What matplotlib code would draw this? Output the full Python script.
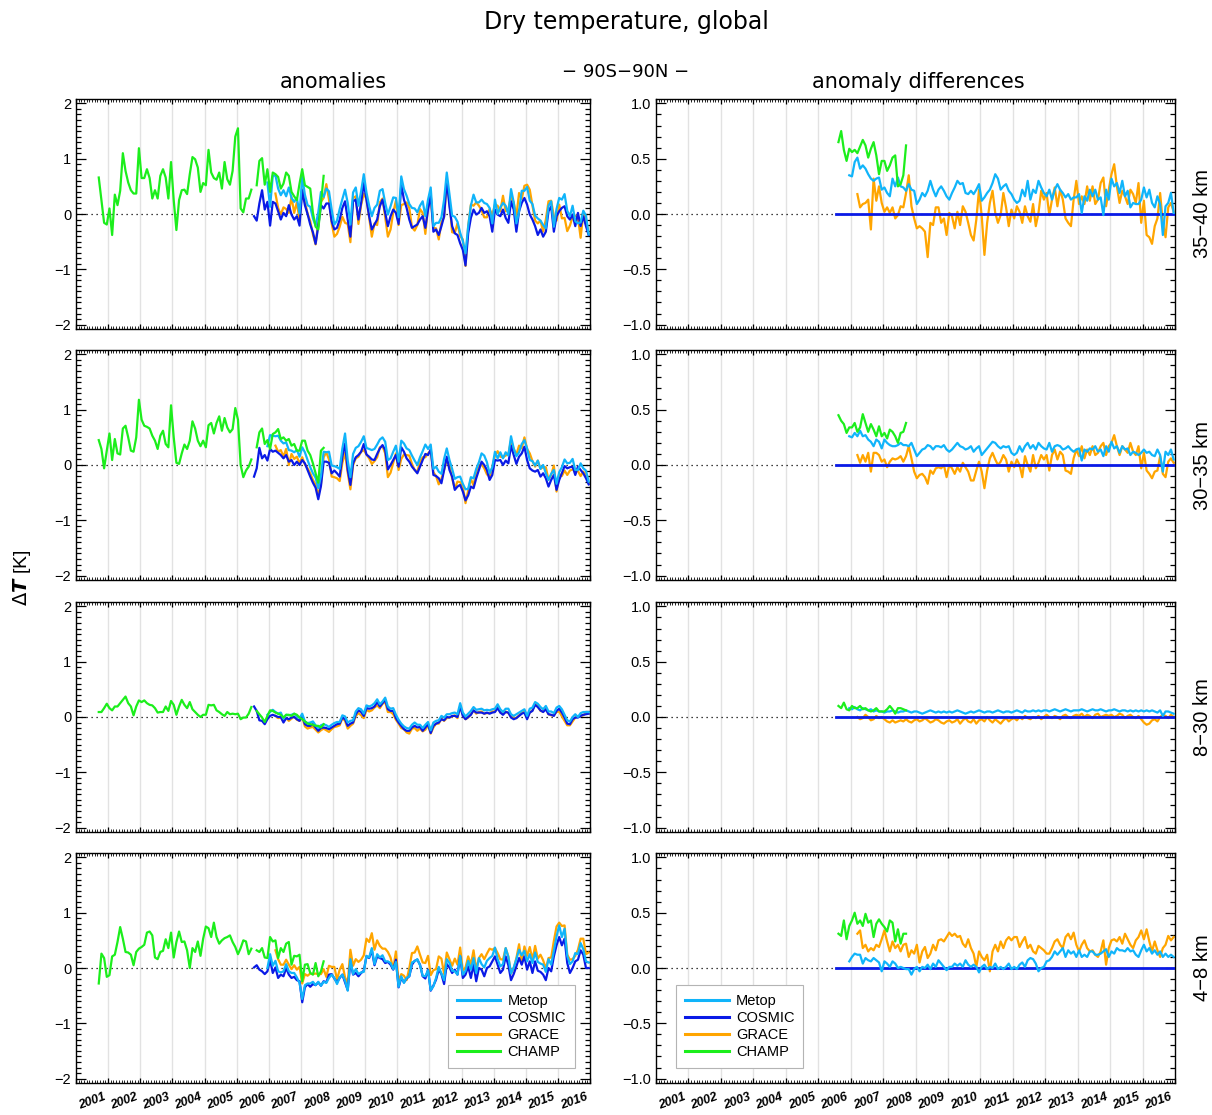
import numpy as np
import matplotlib
matplotlib.use("Agg")
import matplotlib.pyplot as plt
from matplotlib.ticker import MultipleLocator
from matplotlib.lines import Line2D
from matplotlib import transforms

plt.rcParams["font.family"] = ["Liberation Sans", "DejaVu Sans"]
plt.rcParams["mathtext.fontset"] = "dejavusans"

LAYERS = ["35\u221240 km", "30\u221235 km", "8\u221230 km", "4\u22128 km"]
YEARS = list(range(2001, 2017))

# first month of each monthly record (year, month)
CHAMP_START = (2001, 9)
COSMIC_START = (2006, 7)
METOP_START = (2006, 12)
GRACE_START = (2007, 3)
CHAMP_DIFF_START = (2006, 8)
NAN = float("nan")

# ---- 35-40 km ----
champ_35_40 = [
    0.66, 0.25, -0.16, -0.19, 0.10, -0.38, 0.35, 0.16, 0.42, 1.10,
    0.78, 0.57, 0.43, 0.37, 0.37, 1.19, 0.65, 0.65, 0.81, 0.65,
    0.28, 0.43, 0.28, 0.69, 0.81, 0.66, 0.28, 0.94, 0.25, -0.29,
    0.25, 0.43, 0.44, 0.36, 0.72, 1.03, 0.99, 0.84, 0.40, 0.56,
    0.52, 1.16, 0.75, 0.65, 0.62, 0.75, 0.46, 0.94, 0.63, 0.53,
    0.78, 1.40, 1.55, 0.10, 0.03, 0.28, 0.28, 0.44, NAN,
    0.52, 0.96, 1.01, 0.53, 0.81, 0.40, 0.75, 0.72, 0.67, 0.46,
    0.55, 0.75, 0.69, 0.40, 0.32, 0.25, 0.55, 0.81, 0.52, 0.49,
    0.46, 0.02, -0.23, -0.28, 0.19, 0.69,
]
cosmic_35_40 = [
    -0.04, -0.12, 0.19, 0.43, 0.08, 0.22, -0.21, 0.22, 0.19, 0.05,
    -0.10, 0.02, -0.04, 0.16, -0.01, -0.10, -0.04, -0.21, 0.43, 0.16,
    0.00, -0.19, -0.33, -0.54, -0.22, 0.16, 0.10, 0.19, 0.19, -0.13,
    -0.28, -0.25, -0.10, 0.11, 0.23, -0.10, -0.41, 0.23, 0.26, -0.10,
    0.20, 0.56, 0.26, -0.04, -0.28, -0.19, -0.10, 0.14, 0.26, 0.02,
    -0.22, -0.04, 0.08, 0.02, -0.18, 0.53, 0.26, 0.11, -0.10, -0.25,
    -0.22, -0.19, -0.10, -0.04, -0.25, 0.08, 0.35, -0.32, -0.28, -0.38,
    -0.22, -0.04, 0.62, 0.14, -0.22, -0.35, -0.38, -0.53, -0.65, -0.93,
    -0.35, -0.07, 0.08, -0.01, 0.02, 0.11, 0.02, 0.05, -0.04, -0.32,
    0.08, -0.01, -0.04, 0.08, -0.07, -0.16, 0.23, 0.08, -0.32, 0.05,
    0.20, 0.29, 0.17, -0.01, -0.10, -0.22, -0.38, -0.28, -0.41, -0.32,
    0.05, 0.14, -0.32, -0.04, 0.05, 0.11, 0.14, -0.04, -0.10, -0.01,
    -0.22, 0.02, -0.22, -0.04, -0.22, -0.38,
]
metop_diff_35_40 = [
    0.35, 0.34, 0.47, 0.51, 0.41, 0.44, 0.41, 0.36, 0.32, 0.30,
    0.32, 0.33, 0.22, 0.24, 0.19, 0.16, 0.32, 0.25, 0.33, 0.25,
    0.24, 0.21, 0.27, 0.22, 0.21, 0.09, 0.13, 0.19, 0.16, 0.21,
    0.30, 0.22, 0.16, 0.22, 0.25, 0.21, 0.16, 0.13, 0.19, 0.24,
    0.30, 0.27, 0.28, 0.19, 0.18, 0.21, 0.18, 0.22, 0.27, 0.12,
    0.15, 0.19, 0.22, 0.28, 0.36, 0.32, 0.22, 0.25, 0.27, 0.21,
    0.18, 0.13, 0.10, 0.12, 0.22, 0.16, 0.30, 0.13, 0.22, 0.19,
    0.30, 0.24, 0.19, 0.16, 0.22, 0.13, 0.22, 0.27, 0.22, 0.19,
    0.15, 0.18, 0.13, 0.15, 0.15, 0.18, 0.01, 0.16, 0.12, 0.22,
    0.16, 0.22, 0.13, 0.15, -0.01, 0.22, 0.13, 0.32, 0.25, 0.28,
    0.19, 0.30, 0.16, 0.21, 0.06, 0.10, 0.09, 0.09, 0.13, 0.24,
    0.15, 0.22, 0.10, 0.06, 0.16, 0.09, -0.19, 0.07, 0.10, 0.19,
    0.01,
]
grace_diff_35_40 = [
    0.18, 0.06, 0.09, 0.10, 0.13, -0.14, 0.32, 0.12, 0.25, 0.10,
    0.02, 0.06, 0.01, 0.06, -0.04, -0.01, 0.07, 0.06, 0.19, 0.35,
    0.07, -0.04, -0.13, -0.11, -0.13, -0.16, -0.39, -0.08, -0.10, 0.06,
    0.06, -0.08, -0.04, -0.19, 0.01, -0.02, -0.13, 0.02, -0.10, 0.07,
    0.02, -0.08, -0.19, -0.24, -0.05, 0.22, -0.02, -0.37, -0.08, 0.10,
    0.21, 0.01, -0.08, -0.01, 0.19, 0.06, -0.11, 0.04, -0.04, 0.07,
    0.02, -0.08, 0.07, -0.02, -0.07, 0.09, -0.11, 0.01, 0.21, 0.13,
    0.19, -0.01, 0.13, 0.24, 0.07, 0.22, 0.13, -0.04, -0.08, -0.11,
    0.13, 0.30, 0.09, 0.16, 0.09, 0.25, 0.12, 0.25, 0.09, 0.13,
    0.28, 0.33, 0.07, 0.22, 0.36, 0.45, 0.25, 0.10, 0.21, 0.16,
    0.09, 0.22, 0.18, 0.10, 0.28, -0.08, 0.12, -0.19, -0.21, -0.27,
    -0.11, -0.04, 0.19, -0.08, -0.21, 0.06, 0.10, 0.02,
]
champ_diff_35_40 = [
    0.65, 0.75, 0.58, 0.48, 0.59, 0.56, 0.58, 0.55, 0.61, 0.67,
    0.62, 0.51, 0.59, 0.65, 0.53, 0.36, 0.48, 0.48, 0.39, 0.44,
    0.51, 0.53, 0.25, 0.27, 0.35, 0.62,
]

# ---- 30-35 km ----
champ_30_35 = [
    0.45, 0.29, -0.06, 0.26, 0.57, 0.09, 0.47, 0.21, 0.19, 0.66,
    0.71, 0.50, 0.26, 0.24, 0.50, 1.18, 0.82, 0.71, 0.69, 0.66,
    0.53, 0.44, 0.29, 0.53, 0.62, 0.38, 0.32, 1.08, 0.50, 0.04,
    0.02, 0.21, 0.37, 0.29, 0.44, 0.79, 0.66, 0.44, 0.34, 0.44,
    0.32, 0.72, 0.76, 0.57, 0.76, 0.88, 0.62, 0.85, 0.68, 0.59,
    0.65, 1.03, 0.82, 0.00, -0.22, -0.10, -0.03, 0.10, NAN,
    0.32, 0.59, 0.66, 0.38, 0.45, 0.29, 0.56, 0.59, 0.65, 0.47,
    0.50, 0.44, 0.47, 0.35, 0.38, 0.26, 0.26, 0.44, 0.44, 0.26,
    0.18, 0.03, -0.15, -0.32, 0.26, 0.31,
]
cosmic_30_35 = [
    -0.21, -0.06, 0.31, 0.12, 0.18, 0.08, 0.29, 0.24, 0.26, 0.22,
    0.18, 0.12, 0.18, 0.06, 0.09, 0.00, 0.06, 0.00, 0.09, 0.03,
    -0.09, -0.21, -0.32, -0.41, -0.62, -0.38, 0.06, 0.06, 0.04, -0.15,
    -0.10, -0.15, -0.21, 0.15, 0.39, -0.09, -0.36, 0.03, 0.14, 0.18,
    0.24, 0.38, 0.19, 0.15, 0.10, 0.09, 0.20, 0.30, 0.36, 0.27,
    -0.08, 0.00, 0.09, 0.18, -0.03, 0.32, 0.24, 0.12, 0.06, -0.03,
    -0.09, -0.15, -0.03, 0.09, 0.20, 0.18, 0.28, -0.18, -0.20, -0.24,
    -0.33, -0.09, 0.15, -0.09, -0.21, -0.45, -0.39, -0.36, -0.48, -0.64,
    -0.55, -0.39, -0.42, -0.24, -0.09, 0.06, 0.00, -0.09, -0.27, -0.18,
    0.09, 0.08, 0.09, 0.00, 0.08, 0.03, 0.35, 0.18, 0.02, 0.15,
    0.21, 0.33, 0.09, -0.06, -0.10, -0.12, -0.09, -0.21, -0.15, -0.24,
    -0.39, -0.27, -0.18, -0.45, -0.27, -0.15, -0.02, -0.06, -0.04, -0.03,
    -0.18, -0.03, -0.09, -0.15, -0.24, -0.35,
]
metop_diff_30_35 = [
    0.26, 0.25, 0.29, 0.26, 0.31, 0.26, 0.27, 0.23, 0.21, 0.17,
    0.23, 0.21, 0.15, 0.23, 0.20, 0.18, 0.17, 0.17, 0.18, 0.20,
    0.18, 0.18, 0.17, 0.20, 0.14, 0.08, 0.11, 0.14, 0.15, 0.18,
    0.17, 0.14, 0.17, 0.17, 0.16, 0.18, 0.14, 0.12, 0.14, 0.17,
    0.20, 0.17, 0.16, 0.14, 0.15, 0.17, 0.12, 0.15, 0.17, 0.09,
    0.12, 0.15, 0.18, 0.21, 0.20, 0.17, 0.15, 0.17, 0.16, 0.17,
    0.11, 0.09, 0.11, 0.17, 0.12, 0.17, 0.20, 0.15, 0.18, 0.14,
    0.20, 0.17, 0.15, 0.14, 0.20, 0.12, 0.17, 0.18, 0.17, 0.14,
    0.15, 0.17, 0.14, 0.12, 0.14, 0.15, 0.04, 0.14, 0.12, 0.15,
    0.14, 0.17, 0.12, 0.14, 0.08, 0.17, 0.12, 0.21, 0.15, 0.17,
    0.11, 0.17, 0.14, 0.15, 0.09, 0.12, 0.11, 0.09, 0.11, 0.14,
    0.11, 0.12, 0.09, 0.08, 0.14, 0.09, -0.06, 0.12, 0.09, 0.14,
    0.05,
]
grace_diff_30_35 = [
    0.09, 0.02, 0.09, 0.03, 0.11, -0.06, 0.11, 0.11, 0.09, 0.03,
    0.05, -0.02, 0.03, 0.06, 0.05, 0.06, 0.08, 0.03, 0.08, 0.17,
    0.06, -0.06, -0.12, -0.09, -0.08, -0.11, -0.17, -0.05, -0.08, -0.03,
    -0.02, -0.03, 0.00, -0.11, 0.00, -0.03, -0.08, -0.02, -0.06, 0.02,
    -0.02, -0.06, -0.14, -0.14, -0.05, 0.03, -0.06, -0.21, -0.05, 0.06,
    0.11, 0.05, 0.00, 0.03, 0.09, 0.05, -0.06, 0.03, -0.02, 0.05,
    0.00, -0.11, 0.08, 0.00, -0.06, 0.09, -0.03, 0.02, 0.09, 0.05,
    0.09, -0.05, 0.09, 0.14, 0.05, 0.12, 0.09, -0.05, -0.06, -0.08,
    0.06, 0.14, 0.08, 0.17, 0.06, 0.14, 0.09, 0.17, 0.09, 0.11,
    0.17, 0.20, 0.09, 0.17, 0.20, 0.27, 0.17, 0.09, 0.17, 0.14,
    0.11, 0.20, 0.12, 0.09, 0.17, -0.03, 0.11, -0.05, -0.08, -0.12,
    -0.06, -0.05, 0.08, -0.08, -0.11, 0.03, 0.06, 0.02,
]
champ_diff_30_35 = [
    0.45, 0.40, 0.37, 0.29, 0.34, 0.34, 0.38, 0.30, 0.34, 0.46,
    0.38, 0.30, 0.37, 0.32, 0.26, 0.35, 0.26, 0.29, 0.24, 0.32,
    0.30, 0.26, 0.20, 0.29, 0.30, 0.38,
]

# ---- 8-30 km ----
champ_8_30 = [
    0.09, 0.09, 0.16, 0.24, 0.16, 0.12, 0.19, 0.19, 0.25, 0.31,
    0.37, 0.25, 0.19, 0.03, 0.19, 0.30, 0.27, 0.30, 0.25, 0.22,
    0.21, 0.16, 0.08, 0.09, 0.09, 0.19, 0.11, 0.29, 0.22, 0.04,
    0.19, 0.31, 0.22, 0.16, 0.27, 0.14, 0.09, 0.04, 0.00, 0.04,
    0.04, 0.22, 0.21, 0.22, 0.12, 0.09, 0.05, 0.02, 0.09, 0.05,
    0.06, 0.05, 0.06, -0.04, -0.01, -0.01, 0.06, 0.18, NAN,
    0.11, 0.05, -0.01, -0.09, 0.02, 0.12, 0.11, 0.08, 0.06, 0.04,
    -0.01, 0.04, 0.04, 0.02, 0.06, 0.04, -0.01, -0.04, -0.08, -0.12,
    -0.13, -0.14, -0.16, -0.16, -0.19, -0.13,
]
cosmic_8_30 = [
    0.19, 0.11, -0.06, -0.07, -0.13, -0.04, 0.02, 0.04, 0.02, 0.00,
    0.00, -0.10, -0.02, -0.04, -0.01, 0.00, -0.04, -0.07, 0.02, -0.13,
    -0.16, -0.16, -0.13, -0.19, -0.25, -0.20, -0.19, -0.20, -0.22, -0.19,
    -0.16, -0.13, -0.12, -0.01, -0.04, -0.16, -0.12, -0.10, 0.05, 0.12,
    0.09, 0.02, 0.16, 0.15, 0.16, 0.19, 0.27, 0.19, 0.25, 0.31,
    0.14, 0.11, 0.11, -0.02, -0.10, -0.16, -0.22, -0.25, -0.25, -0.19,
    -0.16, -0.19, -0.18, -0.25, -0.19, -0.13, -0.29, -0.16, -0.12, -0.10,
    -0.04, -0.06, 0.00, -0.01, 0.02, 0.02, 0.00, 0.19, 0.02, -0.04,
    0.00, 0.04, 0.12, 0.08, 0.08, 0.08, 0.06, 0.08, 0.06, 0.08,
    0.09, 0.16, 0.08, 0.04, 0.09, 0.08, -0.01, -0.04, -0.02, 0.02,
    0.06, 0.08, -0.04, 0.08, 0.11, 0.22, 0.18, 0.12, 0.09, 0.14,
    0.05, 0.04, 0.02, 0.11, 0.15, 0.08, -0.01, -0.12, -0.13, -0.04,
    -0.01, -0.01, 0.02, 0.04, 0.05, 0.06,
]
metop_diff_8_30 = [
    0.08,
    0.07, 0.09, 0.07, 0.06, 0.08, 0.07, 0.06, 0.07, 0.05, 0.06, 0.05, 0.05,
    0.04, 0.05, 0.05, 0.06, 0.05, 0.04, 0.05, 0.05, 0.06, 0.05, 0.04, 0.05,
    0.05, 0.04, 0.03, 0.04, 0.05, 0.06, 0.05, 0.04, 0.05, 0.04, 0.05, 0.04,
    0.05, 0.04, 0.05, 0.06, 0.05, 0.04, 0.03, 0.04, 0.05, 0.04, 0.05, 0.06,
    0.05, 0.04, 0.05, 0.05, 0.04, 0.05, 0.06, 0.05, 0.04, 0.05, 0.05, 0.04,
    0.05, 0.06, 0.05, 0.04, 0.06, 0.05, 0.05, 0.06, 0.05, 0.06, 0.05, 0.06,
    0.06, 0.05, 0.06, 0.07, 0.06, 0.05, 0.06, 0.07, 0.06, 0.05, 0.06, 0.06,
    0.06, 0.07, 0.06, 0.05, 0.06, 0.07, 0.06, 0.06, 0.07, 0.06, 0.05, 0.06,
    0.06, 0.07, 0.06, 0.05, 0.06, 0.06, 0.05, 0.06, 0.05, 0.06, 0.05, 0.06,
    0.05, 0.06, 0.05, 0.06, 0.05, 0.04, 0.06, 0.01, 0.05, 0.05, 0.04, 0.03,
]
grace_diff_8_30 = [
    0.00, -0.02, -0.01, 0.02, 0.00, -0.03, -0.02, 0.01, -0.01, 0.00,
    -0.02, -0.04, -0.05, -0.03, -0.05, -0.04, -0.03, -0.04, -0.02, -0.04, -0.05, -0.03,
    -0.02, -0.04, -0.03, -0.01, -0.03, -0.05, -0.04, -0.02, -0.03, -0.05, -0.06, -0.04,
    -0.03, -0.05, -0.04, -0.02, -0.06, -0.03, -0.01, -0.04, -0.05, -0.02, -0.06, -0.03,
    -0.02, -0.04, 0.00, -0.03, -0.05, -0.02, -0.04, -0.06, -0.03, -0.01, -0.04, -0.02,
    -0.01, -0.03, 0.00, -0.02, 0.01, -0.01, -0.02, 0.00, -0.01, 0.01, -0.02, 0.00,
    0.02, 0.00, -0.01, 0.01, 0.00, -0.02, 0.01, 0.02, 0.00, -0.01, 0.01, 0.02,
    0.01, 0.03, 0.00, 0.02, 0.01, -0.01, 0.02, 0.03, 0.00, 0.01, 0.02, 0.01,
    0.02, 0.00, 0.01, 0.03, 0.02, -0.01, 0.01, 0.02, 0.00, -0.01, 0.01, -0.02,
    -0.05, -0.07, -0.06, -0.03, -0.02, -0.04, 0.00, 0.02, 0.01, -0.01, 0.02, 0.00,
]
champ_diff_8_30 = [
    0.10, 0.08, 0.13, 0.07, 0.06, 0.10, 0.08, 0.08, 0.10, 0.07,
    0.08, 0.06, 0.05, 0.06, 0.08, 0.05, 0.05, 0.05, 0.07, 0.10,
    0.07, 0.03, 0.08, 0.08, 0.07, 0.06,
]

# ---- 4-8 km ----
champ_4_8 = [
    -0.28, 0.26, 0.18, -0.16, -0.13, 0.21, 0.24, 0.47, 0.74, 0.53,
    0.29, 0.28, 0.24, 0.05, 0.29, 0.35, 0.38, 0.42, 0.64, 0.66,
    0.59, 0.19, 0.16, 0.29, 0.31, 0.52, 0.36, 0.64, 0.19, 0.47,
    0.66, 0.47, 0.48, 0.32, 0.00, 0.36, 0.29, 0.48, 0.22, 0.53,
    0.75, 0.72, 0.56, 0.82, 0.56, 0.44, 0.50, 0.54, 0.56, 0.59,
    0.47, 0.38, 0.25, 0.36, 0.50, 0.48, 0.25, 0.35, NAN,
    0.32, 0.29, 0.36, 0.19, 0.18, 0.56, 0.48, 0.50, 0.18, 0.36,
    0.29, 0.44, 0.47, 0.06, 0.22, 0.21, 0.24, -0.24, 0.06, 0.07,
    -0.09, -0.12, 0.09, -0.15, -0.06, 0.12,
]
cosmic_4_8 = [
    0.01, 0.05, -0.03, -0.06, -0.11, -0.06, 0.15, -0.09, 0.01, -0.18,
    -0.12, -0.15, 0.00, -0.12, -0.18, -0.16, -0.22, -0.24, -0.62, -0.35,
    -0.29, -0.34, -0.29, -0.31, -0.26, -0.32, -0.24, -0.26, -0.12, -0.11,
    -0.19, -0.26, -0.18, -0.12, -0.26, -0.40, 0.12, -0.12, -0.09, -0.15,
    -0.09, -0.05, 0.21, 0.18, 0.32, 0.05, 0.21, 0.18, 0.16, 0.09,
    0.11, 0.06, -0.03, 0.15, -0.35, -0.18, -0.26, -0.19, -0.15, 0.06,
    0.13, 0.15, 0.06, -0.15, -0.19, -0.03, -0.41, -0.32, -0.21, -0.03,
    -0.11, -0.29, 0.07, 0.01, -0.09, -0.03, -0.12, 0.21, -0.18, -0.12,
    0.03, -0.18, 0.06, -0.24, 0.00, -0.03, -0.15, 0.00, 0.03, 0.12,
    0.21, 0.06, -0.09, -0.03, 0.21, 0.05, -0.22, -0.11, 0.03, 0.18,
    0.06, 0.21, -0.03, 0.12, -0.09, 0.12, -0.05, -0.07, -0.12, -0.22,
    0.00, -0.06, 0.21, 0.41, 0.56, 0.41, 0.53, 0.09, -0.09, 0.00,
    0.12, 0.15, 0.32, 0.24, 0.00, 0.00,
]
metop_diff_4_8 = [
    0.06, 0.10, 0.13, 0.12, 0.12, 0.04, 0.09, 0.07, 0.06, 0.09,
    0.07, 0.05, -0.03, 0.06, 0.04, 0.01, 0.06, 0.04, 0.00, 0.01,
    0.00, -0.01, -0.01, -0.06, -0.01, 0.01, -0.03, 0.01, 0.00, 0.03,
    -0.01, 0.04, 0.01, 0.07, 0.04, 0.01, -0.02, 0.01, 0.01, 0.04,
    0.02, 0.04, 0.01, 0.07, 0.03, 0.01, 0.03, 0.01, -0.04, 0.01,
    0.03, -0.01, 0.01, 0.00, 0.04, -0.01, 0.01, -0.01, 0.01, 0.04,
    -0.01, 0.01, -0.01, 0.03, 0.05, 0.01, 0.07, 0.09, 0.08, 0.04,
    -0.03, 0.00, 0.01, 0.06, 0.07, 0.10, 0.15, 0.12, 0.15, 0.18,
    0.10, 0.16, 0.13, 0.15, 0.10, 0.16, 0.10, 0.12, 0.10, 0.15,
    0.15, 0.12, 0.12, 0.13, 0.15, 0.17, 0.10, 0.15, 0.13, 0.18,
    0.16, 0.16, 0.15, 0.18, 0.15, 0.16, 0.12, 0.10, 0.16, 0.21,
    0.15, 0.18, 0.13, 0.16, 0.12, 0.15, 0.10, 0.13, 0.10, 0.12,
    0.10,
]
grace_diff_4_8 = [
    0.31, 0.34, 0.18, 0.21, 0.15, 0.18, 0.16, 0.21, 0.19, 0.26,
    0.34, 0.24, 0.15, 0.24, 0.18, 0.21, 0.15, 0.21, 0.22, 0.10,
    0.16, 0.13, 0.21, 0.05, 0.15, 0.19, 0.09, 0.13, 0.21, 0.16,
    0.25, 0.26, 0.24, 0.28, 0.32, 0.29, 0.31, 0.28, 0.29, 0.22,
    0.19, 0.26, 0.18, 0.13, 0.01, 0.15, 0.10, 0.07, 0.12, -0.03,
    0.15, 0.21, 0.15, 0.24, 0.18, 0.25, 0.28, 0.25, 0.28, 0.28,
    0.19, 0.24, 0.28, 0.18, 0.21, 0.15, 0.13, 0.20, 0.18, 0.16,
    0.13, 0.13, 0.18, 0.24, 0.26, 0.21, 0.18, 0.28, 0.31, 0.26,
    0.32, 0.21, 0.15, 0.21, 0.25, 0.18, 0.15, 0.16, 0.12, 0.10,
    0.15, 0.25, 0.03, 0.18, 0.25, 0.26, 0.24, 0.28, 0.22, 0.31,
    0.26, 0.21, 0.18, 0.25, 0.28, 0.34, 0.26, 0.35, 0.24, 0.15,
    0.24, 0.16, 0.10, 0.18, 0.21, 0.29, 0.25, 0.28,
]
champ_diff_4_8 = [
    0.31, 0.29, 0.43, 0.26, 0.38, 0.43, 0.50, 0.40, 0.43, 0.38,
    0.49, 0.41, 0.43, 0.28, 0.40, 0.44, 0.40, 0.37, 0.33, 0.43,
    0.41, 0.24, 0.35, 0.22, 0.31, 0.31,
]

COLORS = {"Metop": "#10B4FA", "COSMIC": "#0A1AE6", "GRACE": "#FFA500", "CHAMP": "#1CEE1C"}
LW = 1.6

ROWS = [
    (LAYERS[0], champ_35_40, cosmic_35_40, metop_diff_35_40, grace_diff_35_40, champ_diff_35_40),
    (LAYERS[1], champ_30_35, cosmic_30_35, metop_diff_30_35, grace_diff_30_35, champ_diff_30_35),
    (LAYERS[2], champ_8_30, cosmic_8_30, metop_diff_8_30, grace_diff_8_30, champ_diff_8_30),
    (LAYERS[3], champ_4_8, cosmic_4_8, metop_diff_4_8, grace_diff_4_8, champ_diff_4_8),
]


def month_axis(start, n):
    year, month = start
    return year + (month - 0.5 + np.arange(n)) / 12.0


def lag(a, b):
    return (b[0] - a[0]) * 12 + (b[1] - a[1])


def style_axis(ax, ymax, major, bottom_labels):
    ax.set_xlim(2001, 2017)
    ax.set_ylim(-ymax, ymax)
    for yr in range(2002, 2017):
        ax.axvline(yr, color="#e2e2e2", lw=1.0, zorder=0)
    ax.axhline(0, color="black", lw=0.9, ls=(0, (1, 3)), zorder=1)
    ax.xaxis.set_major_locator(MultipleLocator(1))
    ax.xaxis.set_minor_locator(MultipleLocator(1 / 12))
    ax.yaxis.set_major_locator(MultipleLocator(major))
    ax.yaxis.set_minor_locator(MultipleLocator(0.1))
    ax.tick_params(which="both", direction="in", top=True, right=True,
                   labelbottom=False, labelsize=10.5, width=0.9)
    ax.tick_params(axis="x", which="major", length=3.5)
    ax.tick_params(axis="x", which="minor", length=2.2, width=0.6)
    ax.tick_params(axis="y", which="major", length=7)
    ax.tick_params(axis="y", which="minor", length=3.5)
    for sp in ax.spines.values():
        sp.set_linewidth(1.0)
    if bottom_labels:
        trans = transforms.blended_transform_factory(ax.transData, ax.transAxes)
        for yr in YEARS:
            ax.text(yr + 0.5, -0.035, str(yr), transform=trans, rotation=20,
                    ha="center", va="top", fontsize=9, fontweight="bold",
                    fontstyle="italic")


fig = plt.figure(figsize=(12.12, 11.15), dpi=100)
H = 1115.0
row_tops = [99, 350, 602, 853]
panel_h = 230

for i, (layer, champ, cosmic, metop_d, grace_d, champ_d) in enumerate(ROWS):
    bottom = 1 - (row_tops[i] + panel_h) / H
    height = panel_h / H
    last = i == len(ROWS) - 1

    cosmic = np.array(cosmic)
    t_champ = month_axis(CHAMP_START, len(champ))
    t_cosmic = month_axis(COSMIC_START, len(cosmic))
    t_metop = month_axis(METOP_START, len(metop_d))
    t_grace = month_axis(GRACE_START, len(grace_d))
    t_champ_d = month_axis(CHAMP_DIFF_START, len(champ_d))
    # anomalies = COSMIC anomaly + difference to COSMIC
    metop = cosmic[lag(COSMIC_START, METOP_START):] + np.array(metop_d)
    grace = cosmic[lag(COSMIC_START, GRACE_START):] + np.array(grace_d)

    axl = fig.add_axes([76 / 1212, bottom, 514 / 1212, height])
    style_axis(axl, 2.08, 1, last)
    axl.plot(t_grace, grace, color=COLORS["GRACE"], lw=LW, zorder=2)
    axl.plot(t_cosmic, cosmic, color=COLORS["COSMIC"], lw=LW, zorder=3)
    axl.plot(t_metop, metop, color=COLORS["Metop"], lw=LW, zorder=4)
    axl.plot(t_champ, champ, color=COLORS["CHAMP"], lw=LW, zorder=5)

    axr = fig.add_axes([656 / 1212, bottom, 519 / 1212, height])
    style_axis(axr, 1.04, 0.5, last)
    axr.yaxis.set_major_formatter(lambda v, p: f"{v:.1f}".replace("-", "\u2212"))
    axr.plot(t_grace, grace_d, color=COLORS["GRACE"], lw=LW, zorder=2)
    axr.plot(t_cosmic, cosmic - cosmic, color=COLORS["COSMIC"], lw=2.0, zorder=3)
    axr.plot(t_metop, metop_d, color=COLORS["Metop"], lw=LW, zorder=4)
    axr.plot(t_champ_d, champ_d, color=COLORS["CHAMP"], lw=LW, zorder=5)

    fig.text(1203 / 1212, 1 - (row_tops[i] + panel_h / 2) / H, layer,
             rotation=90, ha="center", va="center", fontsize=14.5)

    if last:
        handles = [Line2D([], [], color=COLORS[k], lw=2.2) for k in COLORS]
        kw = dict(frameon=True, fancybox=False, edgecolor="#b4b4b4", framealpha=1,
                  fontsize=10.5, handlelength=3.0, labelspacing=0.2, borderpad=0.6,
                  handletextpad=0.5)
        lg = axl.legend(handles, list(COLORS), loc="lower right",
                        bbox_to_anchor=(0.985, 0.035), **kw)
        lg.get_frame().set_linewidth(0.8)
        lg = axr.legend(handles, list(COLORS), loc="lower left",
                        bbox_to_anchor=(0.025, 0.035), **kw)
        lg.get_frame().set_linewidth(0.8)

fig.text(626 / 1212, 1 - 22 / H, "Dry temperature, global", ha="center",
         va="center", fontsize=17, family=["DejaVu Sans"])
fig.text(626 / 1212, 1 - 72 / H, "\u2212 90S\u221290N \u2212", ha="center",
         va="center", fontsize=13, family=["DejaVu Sans"])
fig.text(333 / 1212, 1 - 82 / H, "anomalies", ha="center", va="center",
         fontsize=15, family=["DejaVu Sans"])
fig.text(918 / 1212, 1 - 82 / H, "anomaly differences", ha="center",
         va="center", fontsize=15, family=["DejaVu Sans"])
fig.text(22 / 1212, 1 - 578 / H, r"$\Delta \mathbfit{T}$ [K]", rotation=90,
         ha="center", va="center", fontsize=14)

fig.savefig("out.png", dpi=100)
